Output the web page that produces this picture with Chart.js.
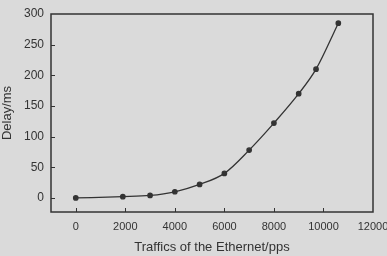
<!DOCTYPE html>
<html>
<head>
<meta charset="utf-8">
<script src="https://cdn.jsdelivr.net/npm/chart.js@4.4.0/dist/chart.umd.min.js"></script>
<style>
  html, body { margin: 0; padding: 0; background: #dadada; }
  #wrap { width: 387px; height: 256px; }
</style>
</head>
<body>
<div id="wrap"><canvas id="canvas" width="387" height="256"></canvas></div>
<script>
"use strict"

// traffic (pps) vs delay (ms)
const traffic = [0, 1900, 3000, 4000, 5000, 6000, 7000, 8000, 9000, 9700, 10600];
const delay = [0, 2, 4, 10, 22, 40, 78, 122, 170, 210, 285];
const xTicks = [0, 2000, 4000, 6000, 8000, 10000, 12000];
const yTicks = [0, 50, 100, 150, 200, 250, 300];

const ink = '#333333';

// tick marks drawn inside the frame
const innerTicks = {
    id: 'innerTicks',
    afterDraw(chart) {
        let ctx = chart.ctx;
        let a = chart.chartArea;
        let xs = chart.scales.x, ys = chart.scales.y;
        ctx.save();
        ctx.strokeStyle = ink;
        ctx.lineWidth = 1;
        ctx.beginPath();
        xTicks.forEach(function (v) {
            let px = Math.round(xs.getPixelForValue(v)) + 0.5;
            if (px < a.right - 2) {
                ctx.moveTo(px, a.bottom);
                ctx.lineTo(px, a.bottom - 4);
            }
        });
        yTicks.forEach(function (v) {
            let py = Math.round(ys.getPixelForValue(v)) + 0.5;
            if (py > a.top + 2) {
                ctx.moveTo(a.left, py);
                ctx.lineTo(a.left + 4, py);
            }
        });
        ctx.stroke();
        ctx.lineWidth = 1.5;
        ctx.strokeRect(a.left, a.top, a.right - a.left, a.bottom - a.top);
        ctx.restore();
    }
};

function plain(v) { return String(v); }

let ctx = document.getElementById('canvas').getContext('2d');
let myChart = new Chart(ctx, {
    type: 'scatter',
    data: {
        datasets: [{
            data: traffic.map(function (t, i) { return {x: t, y: delay[i]}; }),
            showLine: true,
            cubicInterpolationMode: 'monotone',
            borderColor: ink,
            backgroundColor: ink,
            borderWidth: 1.3,
            pointRadius: 2.2,
            pointHoverRadius: 2.2
        }]
    },
    options: {
        responsive: false,
        animation: false,
        layout: { padding: { top: 14, right: 14, left: 0, bottom: 0 } },
        plugins: { legend: { display: false }, tooltip: { enabled: false } },
        scales: {
            x: {
                type: 'linear',
                min: -1000,
                max: 12000,
                afterBuildTicks: function (s) { s.ticks = xTicks.map(function (v) { return {value: v}; }); },
                afterFit: function (s) { s.height = 44; s.paddingRight = 0; s.paddingLeft = 0; },
                grid: { display: false, drawTicks: false },
                border: { display: false },
                ticks: { color: ink, font: { family: 'Liberation Sans', size: 11 }, padding: 8, maxRotation: 0, callback: plain },
                title: { display: true, text: 'Traffics of the Ethernet/pps', color: ink,
                         font: { family: 'Liberation Sans', size: 13 }, padding: { top: 7, bottom: 1 } }
            },
            y: {
                min: -23,
                max: 300,
                afterBuildTicks: function (s) { s.ticks = yTicks.map(function (v) { return {value: v}; }); },
                afterFit: function (s) { s.width = 51; s.paddingTop = 0; s.paddingBottom = 0; },
                grid: { display: false, drawTicks: false },
                border: { display: false },
                ticks: { color: ink, font: { family: 'Liberation Sans', size: 12 }, padding: 7, callback: plain },
                title: { display: true, text: 'Delay/ms', color: ink,
                         font: { family: 'Liberation Sans', size: 13 }, padding: { top: 0, bottom: 8 } }
            }
        }
    },
    plugins: [innerTicks]
});
</script>
</body>
</html>
